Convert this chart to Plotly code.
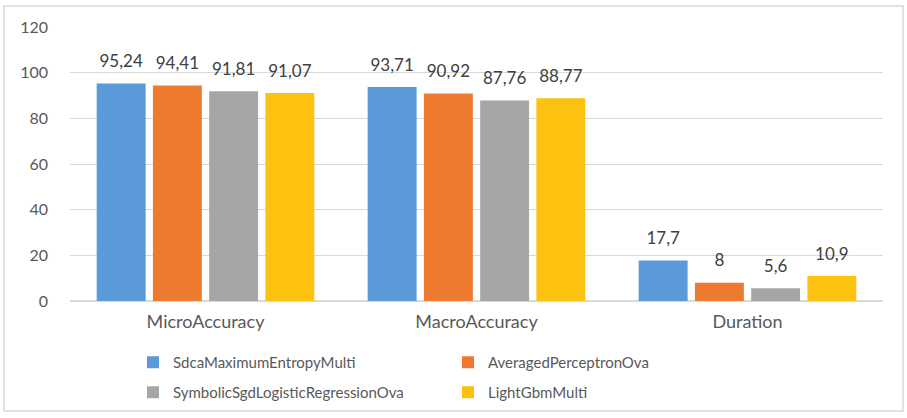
import plotly.graph_objects as go

categories = ["MicroAccuracy", "MacroAccuracy", "Duration"]
series_names = ["SdcaMaximumEntropyMulti", "AveragedPerceptronOva",
                "SymbolicSgdLogisticRegressionOva", "LightGbmMulti"]
sdca = [95.24, 93.71, 17.7]
averaged = [94.41, 90.92, 8]
symbolic = [91.81, 87.76, 5.6]
lightgbm = [91.07, 88.77, 10.9]
y_ticks = [0, 20, 40, 60, 80, 100, 120]

series_values = [sdca, averaged, symbolic, lightgbm]
colors = ["#5A9AD8", "#EE7A2F", "#A6A6A6", "#FDC10F"]
legend_ids = ["legend", "legend", "legend2", "legend2"]

FONT = "Lato, 'Liberation Sans', sans-serif"
TXT = "#595959"


def fmt(v):
    s = ("%g" % v)
    return s.replace(".", ",")


fig = go.Figure()
for name, vals, col, lg in zip(series_names, series_values, colors, legend_ids):
    fig.add_trace(go.Bar(
        x=categories, y=vals, name=name, marker=dict(color=col, line=dict(width=0)),
        legend=lg, hoverinfo="y",
    ))
for name, vals in zip(series_names, series_values):
    fig.add_trace(go.Scatter(
        x=categories, y=vals, mode="markers+text",
        text=[fmt(v) for v in vals], textposition="top center",
        textfont=dict(family=FONT, size=17, color="#404040"),
        marker=dict(size=18, color="rgba(0,0,0,0)"),
        showlegend=False, hoverinfo="skip", cliponaxis=False,
    ))

W, H = 907, 418
L, T = 70, 27
R = W - 883
B = H - 301
pw, ph = W - L - R, H - T - B

fig.update_layout(
    width=W, height=H,
    margin=dict(l=L, r=R, t=T, b=B, autoexpand=False),
    paper_bgcolor="white", plot_bgcolor="white",
    barmode="group", bargap=0.17, bargroupgap=0.13,
    scattermode="group", scattergap=0.17,
    font=dict(family=FONT, size=15, color=TXT),
    xaxis=dict(showgrid=False, showline=False, ticks="", ticklabelstandoff=8,
               tickfont=dict(size=18, color=TXT), automargin=False),
    yaxis=dict(range=[0, 120], tickvals=y_ticks, showgrid=True, gridcolor="#D9D9D9",
               gridwidth=1, zeroline=True, zerolinecolor="#D9D9D9", showline=False,
               ticks="", ticklabelstandoff=21, tickfont=dict(size=16, color=TXT),
               automargin=False),
    legend=dict(orientation="h", x=133 / W, y=1 - 346 / H, xref="container",
                yref="container", xanchor="left", yanchor="top", entrywidth=270,
                font=dict(size=15, color=TXT), bgcolor="rgba(0,0,0,0)"),
    legend2=dict(orientation="h", x=133 / W, y=1 - 376 / H, xref="container",
                 yref="container", xanchor="left", yanchor="top", entrywidth=270,
                 font=dict(size=15, color=TXT), bgcolor="rgba(0,0,0,0)"),
    shapes=[dict(type="rect", xref="paper", yref="paper",
                 x0=(4 - L) / pw, x1=(903 - L) / pw,
                 y0=(301 - 411) / ph, y1=(301 - 6) / ph,
                 line=dict(color="#D9D9D9", width=1.5), fillcolor="rgba(0,0,0,0)",
                 layer="below")],
    showlegend=True,
)

fig.write_html(
    "out.html",
    config={"displayModeBar": False},
    post_script="document.body.style.margin='0px';document.body.style.overflow='hidden';",
)
